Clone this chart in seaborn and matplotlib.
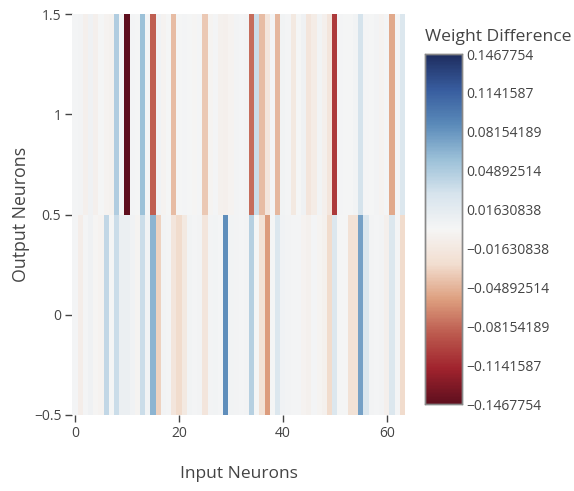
import numpy as np
import pandas as pd
import matplotlib
matplotlib.use("Agg")
import matplotlib.pyplot as plt
from matplotlib.colors import LinearSegmentedColormap
import seaborn as sns

# ---- data ----
input_neurons = list(range(64))
output_neurons = [0, 1]
row1 = [0.002, 0.003, -0.008, 0.006, -0.007, 0.001, -0.004, -0.005, 0.048, 0.0,
        -0.1467754, 0.002, 0.001, 0.058, 0.002, -0.085, 0.005, -0.004, 0.001, -0.045,
        0.001, 0.002, 0.000, -0.002, 0.002, -0.04, -0.003, 0.002, -0.006, -0.008,
        -0.004, 0.003, 0.002, 0.003, -0.08, 0.035, -0.045, -0.02, 0.002, -0.048,
        0.004, 0.002, -0.015, 0.001, 0.006, -0.02, -0.012, 0.004, -0.008, -0.02,
        -0.105, 0.002, 0.001, 0.001, 0.004, 0.03, 0.002, 0.000, 0.003, -0.004,
        0.002, -0.055, 0.002, 0.025]
row0 = [0.002, -0.01, 0.002, 0.006, -0.002, -0.004, 0.04, 0.0, 0.035, 0.01,
        0.01, 0.005, -0.003, 0.035, 0.004, 0.065, -0.035, 0.003, 0.002, -0.02,
        -0.03, -0.015, 0.004, 0.002, 0.003, -0.02, 0.003, 0.004, 0.002, 0.085,
        0.004, 0.003, 0.002, 0.003, 0.045, 0.000, -0.025, -0.06, 0.001, 0.025,
        0.005, 0.003, 0.002, 0.002, -0.004, -0.006, 0.002, -0.003, -0.006, -0.03,
        0.025, 0.000, 0.001, -0.025, -0.025, 0.075, 0.025, 0.003, 0.002, 0.003,
        -0.008, 0.025, 0.002, -0.03]
zmax = 0.1467754
cbar_ticks = [0.1467754, 0.1141587, 0.08154189, 0.04892514, 0.01630838,
              -0.01630838, -0.04892514, -0.08154189, -0.1141587, -0.1467754]
cbar_labels = ["0.1467754", "0.1141587", "0.08154189", "0.04892514", "0.01630838",
               "\u22120.01630838", "\u22120.04892514", "\u22120.08154189", "\u22120.1141587", "\u22120.1467754"]
x_ticks = [0, 20, 40, 60]
y_ticks = [1.5, 1, 0.5, 0, -0.5]

# muted red-blue diverging scale sampled from the reference colour bar
scale_colors = [(95, 15, 30), (160, 35, 45), (188, 90, 78), (222, 160, 128),
                (242, 222, 208), (245, 245, 245), (215, 228, 237), (155, 192, 216),
                (90, 138, 185), (55, 92, 158), (30, 45, 95)]
cmap = LinearSegmentedColormap.from_list(
    "ref_rdbu", [tuple(c / 255 for c in rgb) for rgb in scale_colors])

df = pd.DataFrame([row1, row0], index=[1, 0], columns=input_neurons)

sns.set_theme(style="white")
plt.rcParams['font.family'] = ['Open Sans', 'DejaVu Sans']
txt = '#444444'

W, H = 574, 491
fig = plt.figure(figsize=(W / 100, H / 100), dpi=100)
ax = fig.add_axes([72.4 / W, 1 - 415 / H, (405 - 72.4) / W, (415 - 14) / H])
cax = fig.add_axes([425 / W, 1 - 404 / H, 37 / W, (404 - 54) / H])

sns.heatmap(df, ax=ax, cmap=cmap, vmin=-zmax, vmax=zmax, cbar_ax=cax,
            xticklabels=False, yticklabels=False)

ax.set_xticks([v + 0.5 for v in x_ticks])
ax.set_xticklabels([str(v) for v in x_ticks])
ax.set_yticks([1.5 - v for v in y_ticks])
ax.set_yticklabels([("\u2212" + f"{abs(v):g}") if v < 0 else f"{v:g}" for v in y_ticks])
ax.tick_params(axis='both', which='both', length=5, width=1, color=txt,
               labelcolor=txt, labelsize=10, direction='out', pad=3,
               bottom=True, left=True)
for s in ax.spines.values():
    s.set_visible(False)
ax.set_xlabel("Input Neurons", color=txt, fontsize=12.5, labelpad=18)
ax.set_ylabel("Output Neurons", color=txt, fontsize=12.8, labelpad=3)

cax.set_yticks(cbar_ticks)
cax.set_yticklabels(cbar_labels)
cax.tick_params(axis='y', length=0, labelsize=10, labelcolor=txt, pad=3)
for s in cax.spines.values():
    s.set_visible(True)
    s.set_color('#888888')
    s.set_linewidth(1)
fig.text(425 / W, 1 - 37 / H, "Weight Difference", color=txt, fontsize=12.6,
         ha='left', va='center')

fig.savefig("out.png", dpi=100)
